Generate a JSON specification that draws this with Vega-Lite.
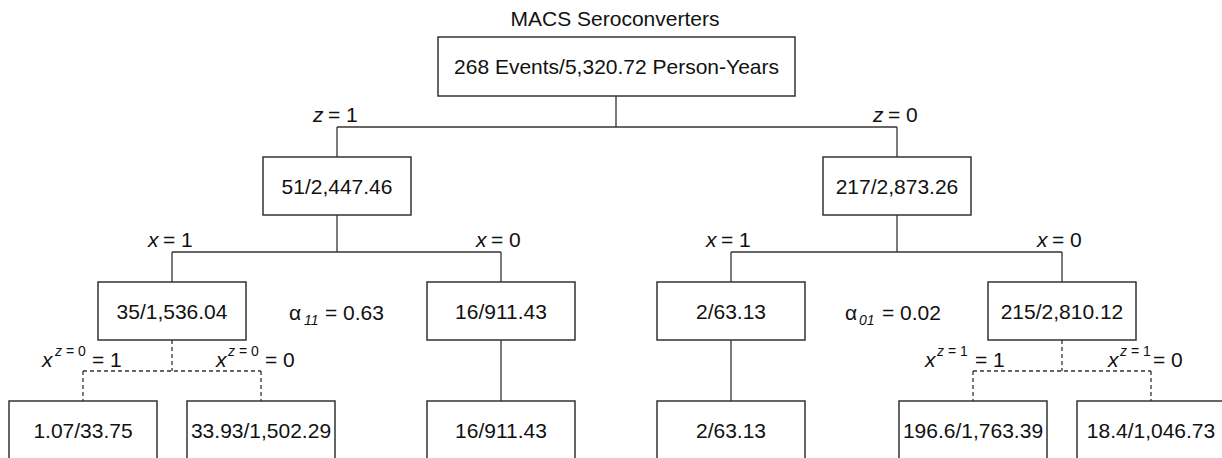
{
  "$schema": "https://vega.github.io/schema/vega-lite/v6.json",
  "width": 1222,
  "height": 458,
  "padding": 0,
  "autosize": {"type": "none"},
  "background": "white",
  "config": {
    "view": {"stroke": null},
    "text": {"font": "Liberation Sans", "color": "#111111"}
  },
  "datasets": {
    "boxes": [
      {"label": "268 Events/5,320.72 Person-Years", "x1": 438, "x2": 795, "y1": 37, "y2": 96, "cx": 616.5, "ty": 73.5},
      {"label": "51/2,447.46", "x1": 263, "x2": 411, "y1": 157, "y2": 215, "cx": 337, "ty": 193.5},
      {"label": "217/2,873.26", "x1": 823, "x2": 971, "y1": 157, "y2": 215, "cx": 897, "ty": 193.5},
      {"label": "35/1,536.04", "x1": 98, "x2": 246, "y1": 282, "y2": 340, "cx": 172, "ty": 318.5},
      {"label": "16/911.43", "x1": 427, "x2": 575, "y1": 282, "y2": 340, "cx": 501, "ty": 318.5},
      {"label": "2/63.13", "x1": 657, "x2": 805, "y1": 282, "y2": 340, "cx": 731, "ty": 318.5},
      {"label": "215/2,810.12", "x1": 988, "x2": 1136, "y1": 282, "y2": 340, "cx": 1062, "ty": 318.5},
      {"label": "1.07/33.75", "x1": 9, "x2": 157, "y1": 401, "y2": 462, "cx": 83, "ty": 437.5},
      {"label": "33.93/1,502.29", "x1": 187, "x2": 335, "y1": 401, "y2": 462, "cx": 261, "ty": 437.5},
      {"label": "16/911.43", "x1": 427, "x2": 575, "y1": 401, "y2": 462, "cx": 501, "ty": 437.5},
      {"label": "2/63.13", "x1": 657, "x2": 805, "y1": 401, "y2": 462, "cx": 731, "ty": 437.5},
      {"label": "196.6/1,763.39", "x1": 899, "x2": 1047, "y1": 401, "y2": 462, "cx": 973, "ty": 437.5},
      {"label": "18.4/1,046.73", "x1": 1077, "x2": 1228, "y1": 401, "y2": 462, "cx": 1151, "ty": 437.5}
    ],
    "solid": [
      {"xa": 616, "ya": 96, "xb": 616, "yb": 127},
      {"xa": 337, "ya": 127, "xb": 897, "yb": 127},
      {"xa": 337, "ya": 127, "xb": 337, "yb": 157},
      {"xa": 897, "ya": 127, "xb": 897, "yb": 157},
      {"xa": 337, "ya": 215, "xb": 337, "yb": 252},
      {"xa": 897, "ya": 215, "xb": 897, "yb": 252},
      {"xa": 172, "ya": 252, "xb": 501, "yb": 252},
      {"xa": 731, "ya": 252, "xb": 1062, "yb": 252},
      {"xa": 172, "ya": 252, "xb": 172, "yb": 282},
      {"xa": 501, "ya": 252, "xb": 501, "yb": 282},
      {"xa": 731, "ya": 252, "xb": 731, "yb": 282},
      {"xa": 1062, "ya": 252, "xb": 1062, "yb": 282},
      {"xa": 501, "ya": 340, "xb": 501, "yb": 401},
      {"xa": 731, "ya": 340, "xb": 731, "yb": 401}
    ],
    "dashed": [
      {"xa": 172, "ya": 340, "xb": 172, "yb": 371},
      {"xa": 83, "ya": 371, "xb": 261, "yb": 371},
      {"xa": 83, "ya": 371, "xb": 83, "yb": 401},
      {"xa": 261, "ya": 371, "xb": 261, "yb": 401},
      {"xa": 1062, "ya": 340, "xb": 1062, "yb": 371},
      {"xa": 973, "ya": 371, "xb": 1151, "yb": 371},
      {"xa": 973, "ya": 371, "xb": 973, "yb": 401},
      {"xa": 1151, "ya": 371, "xb": 1151, "yb": 401}
    ],
    "title": [
      {"t": "MACS Seroconverters", "px": 615, "py": 26}
    ],
    "italicVar": [
      {"t": "z", "px": 313, "py": 122},
      {"t": "z", "px": 873, "py": 122},
      {"t": "x", "px": 148, "py": 247},
      {"t": "x", "px": 476, "py": 247},
      {"t": "x", "px": 706, "py": 247},
      {"t": "x", "px": 1037, "py": 247},
      {"t": "x", "px": 42, "py": 367},
      {"t": "x", "px": 216, "py": 367},
      {"t": "x", "px": 925, "py": 367},
      {"t": "x", "px": 1108, "py": 367}
    ],
    "plainLeft": [
      {"t": "= 1", "px": 328, "py": 122},
      {"t": "= 0", "px": 888, "py": 122},
      {"t": "= 1", "px": 163, "py": 247},
      {"t": "= 0", "px": 491, "py": 247},
      {"t": "= 1", "px": 721, "py": 247},
      {"t": "= 0", "px": 1052, "py": 247},
      {"t": "= 1", "px": 92, "py": 367},
      {"t": "= 0", "px": 265, "py": 367},
      {"t": "= 1", "px": 975, "py": 367},
      {"t": "= 0", "px": 1153, "py": 367},
      {"t": "α", "px": 289, "py": 320},
      {"t": "= 0.63", "px": 325, "py": 320},
      {"t": "α", "px": 845, "py": 320},
      {"t": "= 0.02", "px": 882, "py": 320}
    ],
    "smallItalic": [
      {"t": "z", "px": 55, "py": 356},
      {"t": "z", "px": 228, "py": 356},
      {"t": "z", "px": 937, "py": 356},
      {"t": "z", "px": 1120, "py": 356},
      {"t": "11", "px": 304, "py": 325},
      {"t": "01", "px": 859, "py": 325}
    ],
    "smallPlain": [
      {"t": "= 0", "px": 66, "py": 356},
      {"t": "= 0", "px": 239, "py": 356},
      {"t": "= 1", "px": 948, "py": 356},
      {"t": "= 1", "px": 1131, "py": 356}
    ]
  },
  "layer": [
    {
      "data": {"name": "solid"},
      "mark": {"type": "rule", "stroke": "#333333", "strokeWidth": 1.3, "clip": true},
      "encoding": {
        "x": {"field": "xa", "type": "quantitative", "scale": {"domain": [0, 1222], "nice": false, "zero": false}, "axis": null},
        "y": {"field": "ya", "type": "quantitative", "scale": {"domain": [0, 458], "nice": false, "zero": false, "reverse": true}, "axis": null},
        "x2": {"field": "xb"},
        "y2": {"field": "yb"}
      }
    },
    {
      "data": {"name": "dashed"},
      "mark": {"type": "rule", "stroke": "#333333", "strokeWidth": 1.3, "strokeDash": [4, 3], "clip": true},
      "encoding": {
        "x": {"field": "xa", "type": "quantitative", "axis": null},
        "y": {"field": "ya", "type": "quantitative", "axis": null},
        "x2": {"field": "xb"},
        "y2": {"field": "yb"}
      }
    },
    {
      "data": {"name": "boxes"},
      "mark": {"type": "rect", "fill": "white", "stroke": "#333333", "strokeWidth": 1.5, "clip": true},
      "encoding": {
        "x": {"field": "x1", "type": "quantitative", "axis": null},
        "x2": {"field": "x2"},
        "y": {"field": "y1", "type": "quantitative", "axis": null},
        "y2": {"field": "y2"}
      }
    },
    {
      "data": {"name": "boxes"},
      "mark": {"type": "text", "fontSize": 21, "align": "center", "baseline": "alphabetic"},
      "encoding": {
        "x": {"field": "cx", "type": "quantitative", "axis": null},
        "y": {"field": "ty", "type": "quantitative", "axis": null},
        "text": {"field": "label"}
      }
    },
    {
      "data": {"name": "title"},
      "mark": {"type": "text", "fontSize": 21, "align": "center", "baseline": "alphabetic"},
      "encoding": {
        "x": {"field": "px", "type": "quantitative", "axis": null},
        "y": {"field": "py", "type": "quantitative", "axis": null},
        "text": {"field": "t"}
      }
    },
    {
      "data": {"name": "italicVar"},
      "mark": {"type": "text", "fontSize": 21, "fontStyle": "italic", "align": "left", "baseline": "alphabetic"},
      "encoding": {
        "x": {"field": "px", "type": "quantitative", "axis": null},
        "y": {"field": "py", "type": "quantitative", "axis": null},
        "text": {"field": "t"}
      }
    },
    {
      "data": {"name": "plainLeft"},
      "mark": {"type": "text", "fontSize": 21, "align": "left", "baseline": "alphabetic"},
      "encoding": {
        "x": {"field": "px", "type": "quantitative", "axis": null},
        "y": {"field": "py", "type": "quantitative", "axis": null},
        "text": {"field": "t"}
      }
    },
    {
      "data": {"name": "smallItalic"},
      "mark": {"type": "text", "fontSize": 14, "fontStyle": "italic", "align": "left", "baseline": "alphabetic"},
      "encoding": {
        "x": {"field": "px", "type": "quantitative", "axis": null},
        "y": {"field": "py", "type": "quantitative", "axis": null},
        "text": {"field": "t"}
      }
    },
    {
      "data": {"name": "smallPlain"},
      "mark": {"type": "text", "fontSize": 14, "align": "left", "baseline": "alphabetic"},
      "encoding": {
        "x": {"field": "px", "type": "quantitative", "axis": null},
        "y": {"field": "py", "type": "quantitative", "axis": null},
        "text": {"field": "t"}
      }
    }
  ]
}
